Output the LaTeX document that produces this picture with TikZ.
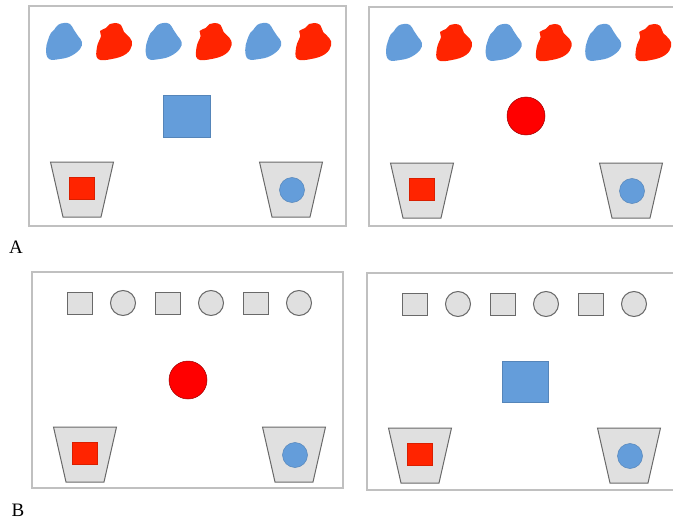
\documentclass[tikz,border=0pt]{standalone}
\usepackage{fontspec}
\setmainfont{Liberation Serif}
\definecolor{blobblue}{RGB}{100,157,218}
\definecolor{blobred}{RGB}{255,36,0}
\definecolor{ballred}{RGB}{255,0,0}
\definecolor{cupgray}{RGB}{224,224,224}
\definecolor{framegray}{RGB}{192,192,192}
\definecolor{edgegray}{RGB}{105,105,105}

\tikzset{
	panelframe/.style={draw=framegray, line width=1.2pt},
	cup/.style={fill=cupgray, draw=edgegray, line width=1pt},
	token/.style={fill=cupgray, draw=edgegray, line width=1pt},
	bluething/.style={fill=blobblue, draw=blobblue!85!black, line width=0.5pt},
	redthing/.style={fill=blobred, draw=blobred!85!black, line width=0.5pt},
	ballthing/.style={fill=ballred, draw=ballred!60!black, line width=0.5pt},
	panellabel/.style={font=\fontsize{19}{20}\selectfont, inner sep=0pt},
	bluecell/.pic={
		\fill[blobblue] plot[smooth cycle, tension=0.7] coordinates {
			(0,-19) (6,-18) (10,-12) (14,-6) (18,0) (16,7) (7,14) (-4,17)
			(-15,17) (-18,8) (-16,-2) (-13,-9) (-10,-12) (-6,-17)};
	},
	redcell/.pic={
		\fill[blobred] plot[smooth cycle, tension=0.7] coordinates {
			(1,-19) (7,-17) (10,-10) (16,-4) (18,3) (12,12) (-2,17) (-16,17)
			(-17,5) (-13,-6) (-14,-11) (-8,-14) (-4,-18)};
	},
	cups/.pic={
		\draw[cup] (21.5,156) -- (84.5,156) -- (72,211) -- (34,211) -- cycle;
		\draw[cup] (230.5,156) -- (293.5,156) -- (281,211) -- (243,211) -- cycle;
		\fill[redthing] (40,171) rectangle (65,193);
		\draw[bluething] (263,184) circle (12.5);
	}
}

\begin{document}
\begin{tikzpicture}[x=1pt, y=-1pt]
	\useasboundingbox (0,0) rectangle (673,519);
	
	% A, left
	\begin{scope}[shift={(29,6)}]
		\draw[panelframe] (0,0) rectangle (317,220);
		\foreach \k in {0,1,2} {
			\pic at (35+99.6*\k, 36) {bluecell};
			\pic at (85+99.6*\k, 36) {redcell};
		}
		\draw[bluething] (134,89) rectangle (181,131);
		\pic at (0,0) {cups};
	\end{scope}
	
	% A, right
	\begin{scope}[shift={(369,7)}]
		\draw[panelframe] (0,0) rectangle (306,219);
		\foreach \k in {0,1,2} {
			\pic at (35+99.6*\k, 36) {bluecell};
			\pic at (85+99.6*\k, 36) {redcell};
		}
		\draw[ballthing] (157,109) circle (19);
		\pic at (0,0) {cups};
	\end{scope}
	
	% B, left
	\begin{scope}[shift={(32,272)}]
		\draw[panelframe] (0,0) rectangle (311,216);
		\foreach \k in {0,1,2} {
			\draw[token] (35.5+88*\k, 20) rectangle ++(25,22);
			\draw[token] (91+88*\k, 31) circle (12.5);
		}
		\draw[ballthing] (156,108) circle (19);
		\pic at (0,-1) {cups};
	\end{scope}
	
	% B, right
	\begin{scope}[shift={(367,273)}]
		\draw[panelframe] (0,0) rectangle (308,217);
		\foreach \k in {0,1,2} {
			\draw[token] (35.5+88*\k, 20) rectangle ++(25,22);
			\draw[token] (91+88*\k, 31) circle (12.5);
		}
		\draw[bluething] (135,88) rectangle (181,129);
		\pic at (0,-1) {cups};
	\end{scope}
	
	\node[panellabel] (lblA) at (16,247) {A};
	\node[panellabel] (lblB) at (18,510) {B};
\end{tikzpicture}
\end{document}
